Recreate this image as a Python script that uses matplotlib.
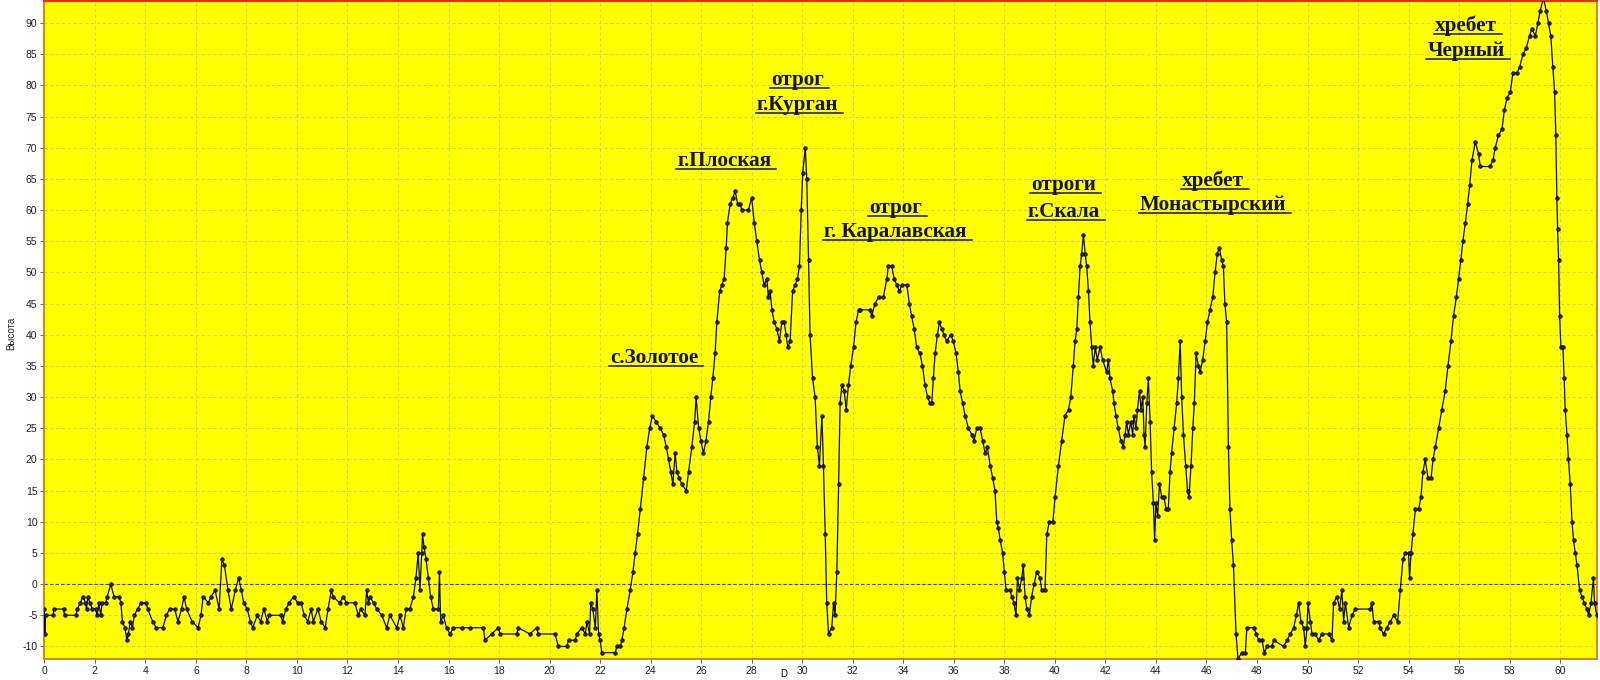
import matplotlib
matplotlib.use("Agg")
import matplotlib.pyplot as plt
from matplotlib.lines import Line2D

plt.rcParams['axes.unicode_minus'] = False

# профиль: расстояние D и высота
dist = [
    0, 0.02, 0.05, 0.35, 0.38, 0.76, 0.8, 1.25, 1.3, 1.43, 1.53, 1.63, 1.67, 1.72, 1.8, 1.9,
    2.03, 2.09, 2.16, 2.23, 2.29, 2.43, 2.49, 2.63, 2.76, 2.96, 3.03, 3.09, 3.19, 3.27, 3.33,
    3.4, 3.49, 3.56, 3.69, 3.83, 4.03, 4.09, 4.29, 4.43, 4.69, 4.83, 4.96, 5.16, 5.29, 5.43,
    5.53, 5.63, 5.85, 6.09, 6.2, 6.29, 6.49, 6.6, 6.76, 6.92, 7.03, 7.13, 7.27, 7.4, 7.56,
    7.69, 7.8, 7.89, 8.03, 8.16, 8.25, 8.43, 8.56, 8.69, 8.83, 8.89, 9.36, 9.43, 9.56, 9.69,
    9.87, 10.03, 10.16, 10.29, 10.43, 10.56, 10.65, 10.83, 10.96, 11.12, 11.23, 11.36, 11.43,
    11.69, 11.83, 11.96, 12.29, 12.43, 12.52, 12.69, 12.76, 12.83, 12.89, 13.03, 13.16, 13.36,
    13.55, 13.68, 13.95, 14.08, 14.21, 14.32, 14.47, 14.61, 14.71, 14.8, 14.87, 14.94, 14.97,
    15.03, 15.11, 15.2, 15.29, 15.4, 15.6, 15.64, 15.69, 15.79, 15.92, 16.06, 16.19, 16.52,
    16.85, 17.38, 17.44, 17.71, 17.97, 18.04, 18.7, 18.76, 19.22, 19.49, 19.55, 20.21, 20.35,
    20.68, 20.75, 21.01, 21.08, 21.28, 21.41, 21.48, 21.58, 21.63, 21.71, 21.81, 21.87, 21.94,
    22.0, 22.07, 22.6, 22.66, 22.8, 22.86, 22.95, 23.06, 23.19, 23.3, 23.39, 23.48, 23.59,
    23.72, 23.85, 23.96,
    # с.Золотое - г.Плоская - г.Курган
    24.07, 24.22, 24.38, 24.51, 24.62, 24.71, 24.8, 24.88, 24.97, 25.04, 25.13, 25.24, 25.41,
    25.5, 25.63, 25.74, 25.8, 25.9, 25.99, 26.09, 26.19, 26.29, 26.38, 26.46, 26.55, 26.62,
    26.73, 26.82, 26.91, 26.99, 27.04, 27.15, 27.25, 27.35, 27.44, 27.54, 27.61, 27.87, 28.0,
    28.1, 28.2, 28.31, 28.4, 28.49, 28.6, 28.66, 28.73, 28.8, 28.89, 28.99, 29.1, 29.19,
    29.29, 29.36, 29.43, 29.52, 29.62, 29.72, 29.81, 29.89, 29.96, 30.02, 30.12, 30.18, 30.25,
    30.31, 30.41, 30.51, 30.6, 30.68, 30.78, 30.84, 30.91, 30.97, 31.04, 31.17, 31.24, 31.3,
    31.37, 31.44, 31.5, 31.57, 31.66, 31.74, 31.83, 31.92, 32.03, 32.13, 32.23,
    # Каралавская - Скала - Монастырский
    32.29, 32.69, 32.75, 32.88, 33.02, 33.21, 33.35, 33.41, 33.54, 33.64, 33.74, 33.85, 33.94,
    34.14, 34.24, 34.33, 34.43, 34.53, 34.66, 34.76, 34.86, 34.96, 35.06, 35.13, 35.19, 35.26,
    35.35, 35.43, 35.52, 35.61, 35.72, 35.88, 35.98, 36.09, 36.18, 36.25, 36.35, 36.45, 36.58,
    36.71, 36.8, 36.91, 37.04, 37.14, 37.24, 37.33, 37.44, 37.54, 37.63, 37.7, 37.76, 37.84,
    37.93, 38.0, 38.07, 38.23, 38.29, 38.38, 38.46, 38.52, 38.6, 38.69, 38.75, 38.82, 38.89,
    38.99, 39.08, 39.18, 39.28, 39.41, 39.48, 39.61, 39.68, 39.78, 39.92, 40.01, 40.14, 40.27,
    40.4, 40.54, 40.63, 40.73, 40.8, 40.87, 40.93, 41.0, 41.06, 41.13, 41.2, 41.26, 41.33,
    41.39, 41.46, 41.52, 41.6, 41.68, 41.79, 41.89, 42.05, 42.12, 42.18, 42.29, 42.34, 42.42,
    42.51, 42.61, 42.71, 42.78, 42.84, 42.91, 43.0, 43.08, 43.13, 43.21, 43.27, 43.35, 43.41,
    43.48, 43.53, 43.57, 43.64, 43.7, 43.77, 43.83, 43.9, 43.95, 44.0, 44.07, 44.14, 44.23,
    44.32, 44.4, 44.49, 44.56, 44.62, 44.72, 44.82, 44.89, 44.96, 45.02, 45.09, 45.18, 45.25,
    45.31, 45.39, 45.46, 45.52, 45.59, 45.68, 45.75, 45.85, 45.95, 46.04, 46.14, 46.25, 46.34,
    46.43, 46.51, 46.6, 46.67, 46.73, 46.8, 46.87, 46.93, 47.0, 47.07, 47.17, 47.25,
    # равнина и хребет Черный
    47.4, 47.54, 47.6, 47.87, 47.97, 48.07, 48.2, 48.29, 48.4, 48.59, 48.66, 49.06, 49.19,
    49.32, 49.45, 49.56, 49.65, 49.74, 49.85, 49.91, 49.98, 50.02, 50.11, 50.18, 50.31, 50.44,
    50.57, 50.84, 50.97, 51.03, 51.17, 51.27, 51.36, 51.43, 51.5, 51.63, 51.76, 51.89, 52.48,
    52.55, 52.62, 52.82, 52.88, 53.01, 53.14, 53.28, 53.41, 53.57, 53.67, 53.78, 53.87, 54.0,
    54.04, 54.1, 54.17, 54.27, 54.4, 54.49, 54.57, 54.66, 54.77, 54.89, 54.97, 55.06, 55.19,
    55.32, 55.45, 55.56, 55.68, 55.78, 55.89, 55.98, 56.07, 56.15, 56.25, 56.34, 56.42, 56.51,
    56.64, 56.77, 56.84, 57.23, 57.34, 57.43, 57.56, 57.7, 57.79, 57.9, 58.03, 58.13, 58.29,
    58.4, 58.53, 58.66, 58.79, 58.88, 59.02, 59.12, 59.21, 59.34, 59.45, 59.54, 59.63, 59.71,
    59.78, 59.83, 59.87, 59.9, 59.94, 59.98, 60.03, 60.11, 60.16, 60.2, 60.27, 60.33, 60.4,
    60.47, 60.53, 60.6, 60.67, 60.77, 60.86, 60.95, 61.06, 61.13, 61.22, 61.32, 61.36, 61.45,
]
height = [
    -4, -8, -5, -5, -4, -4, -5, -5, -4, -3, -2, -3, -4, -2, -3, -4,
    -4, -5, -3, -5, -3, -3, -2, 0, -2, -2, -3, -6, -7, -9, -8,
    -6, -7, -5, -4, -3, -3, -4, -6, -7, -7, -5, -4, -4, -6, -4,
    -2, -4, -6, -7, -5, -2, -3, -2, -1, -4, 4, 3, -1, -4, -1,
    1, -1, -3, -4, -6, -7, -5, -6, -4, -6, -5, -5, -6, -4, -3,
    -2, -3, -3, -5, -6, -4, -6, -4, -6, -7, -4, -1, -2,
    -3, -2, -3, -3, -5, -4, -5, -1, -3, -2, -3, -4, -5,
    -7, -5, -7, -5, -7, -4, -4, -2, 1, 5, -1, 5, 8,
    6, 4, 1, -2, -4, -4, 2, -6, -5, -7, -8, -7, -7,
    -7, -7, -9, -8, -7, -8, -8, -7, -8, -7, -8, -8, -10,
    -10, -9, -9, -8, -7, -8, -6, -8, -3, -4, -7, -1, -8,
    -9, -11, -11, -10, -10, -9, -7, -4, -1, 2, 5, 8, 12,
    17, 22, 25,
    27, 26, 25, 24, 22, 20, 18, 16, 21, 18, 17, 16, 15,
    18, 22, 26, 30, 25, 23, 21, 23, 26, 30, 33, 37, 42,
    47, 48, 49, 54, 58, 61, 62, 63, 61, 61, 60, 60, 62,
    58, 55, 52, 50, 48, 49, 46, 47, 44, 42, 41, 39, 42,
    42, 40, 38, 39, 47, 48, 49, 51, 60, 66, 70, 65, 52,
    40, 33, 30, 22, 19, 27, 19, 8, -3, -8, -7, -3, -5,
    2, 16, 29, 32, 31, 28, 32, 35, 38, 42, 44,
    44, 44, 43, 45, 46, 46, 49, 51, 51, 49, 48, 47, 48,
    48, 45, 43, 41, 38, 37, 35, 32, 30, 29, 29, 33, 37,
    40, 42, 41, 40, 39, 40, 39, 37, 34, 31, 29, 27, 25,
    24, 23, 25, 25, 23, 21, 22, 19, 17, 15, 10, 9, 7,
    5, 2, -1, -1, -2, -3, -5, 1, -1, 1, 3, -2, -4,
    -5, -2, 0, 2, 1, -1, -1, 8, 10, 10, 14, 19, 23,
    27, 28, 30, 35, 39, 41, 46, 51, 53, 56, 53, 51, 47,
    42, 38, 35, 38, 36, 38, 36, 34, 36, 33, 31, 29, 27,
    25, 23, 22, 24, 26, 24, 26, 24, 27, 25, 28, 31, 28,
    30, 24, 22, 29, 33, 26, 18, 13, 7, 13, 11, 16, 14,
    14, 12, 12, 18, 21, 25, 29, 33, 39, 30, 24, 19, 15,
    14, 19, 25, 29, 37, 35, 34, 36, 39, 42, 44, 46, 50,
    53, 54, 52, 51, 45, 42, 22, 12, 7, 3, -8, -12,
    -11, -11, -7, -7, -8, -9, -9, -11, -10, -10, -9, -10, -9,
    -8, -7, -5, -3, -6, -7, -10, -7, -3, -6, -8, -8, -9,
    -8, -8, -9, -3, -2, -4, -1, -6, -3, -7, -5, -4, -4,
    -3, -6, -6, -7, -8, -7, -6, -5, -6, -1, 4, 5, 5,
    1, 5, 8, 12, 12, 14, 18, 20, 17, 17, 20, 22, 25,
    28, 31, 35, 39, 43, 46, 49, 52, 55, 58, 61, 64, 68,
    71, 69, 67, 67, 68, 70, 72, 73, 76, 78, 79, 82, 82,
    83, 85, 86, 88, 89, 88, 90, 92, 94, 92, 90, 88, 83,
    79, 72, 62, 57, 52, 43, 38, 38, 33, 28, 24, 20, 16,
    10, 7, 5, 3, -1, -2, -3, -4, -5, -3, 1, -3, -5,
]

# подписи: (строки, x, y базовой линии, выравнивание)
labels = [
    (["с.Золотое"], 22.4, [35.5], "left"),
    (["г.Плоская"], 25.05, [67.0], "left"),
    (["отрог", "г.Курган"], 29.82, [80.0, 76.0], "center"),
    (["отрог", "г. Каралавская"], 33.7, [59.5, 55.7], "center"),
    (["отроги", "г.Скала"], 40.35, [63.2, 58.9], "center"),
    (["хребет", "Монастырский"], 46.25, [63.8, 60.0], "center"),
    (["хребет", "Черный"], 56.27, [88.8, 84.8], "center"),
]

fig = plt.figure(figsize=(16, 6.8), dpi=100)
fig.patch.set_facecolor('#ffffff')
ax = fig.add_axes([0.0277, 0.031, 0.9706, 0.968])
ax.set_facecolor('#ffff00')

ax.plot(dist, height, color='#0a0a3a', lw=0.9, marker='o', markersize=2.6,
        markerfacecolor='#1c1c8c', markeredgecolor='#05052a', markeredgewidth=0.5, zorder=3)

ax.set_xlim(0, 61.47)
ax.set_ylim(-12, 93.6)
ax.set_xticks(range(0, 61, 2))
ax.set_yticks(range(-10, 91, 5))
ax.grid(True, color='#c8c898', ls=(0, (3, 3)), lw=0.7)
ax.axhline(0, color='#3a3a60', ls=(0, (3, 2)), lw=0.8, zorder=2)
ax.tick_params(direction='out', length=3, width=0.6, colors='#505050', labelsize=7.5,
               labelcolor='#202020', pad=2)
for lab in ax.get_xticklabels() + ax.get_yticklabels():
    lab.set_family('Liberation Sans')
for side in ['left', 'bottom', 'right']:
    ax.spines[side].set_color('#d07018')
    ax.spines[side].set_linewidth(1.2)
ax.spines['top'].set_color('#e03010')
ax.spines['top'].set_linewidth(1.5)

fig.text(0.004, 0.51, 'Высота', rotation=90, fontsize=7, family='Liberation Sans',
         color='#202020', ha='left', va='center')
fig.text(0.49, 0.002, 'D', fontsize=7, family='Liberation Sans', ha='center', va='bottom')

texts = []
for lines, x, ys, ha in labels:
    for line, y in zip(lines, ys):
        t = ax.text(x, y, line, ha=ha, va='baseline', fontsize=15.2, fontweight='bold',
                    family='Liberation Serif', color='#12123a', zorder=5)
        texts.append((t, x, y))

# подчеркивание подписей
fig.canvas.draw()
renderer = fig.canvas.get_renderer()
inv = fig.transFigure.inverted()
for t, x, y in texts:
    bb = t.get_window_extent(renderer)
    base = ax.transData.transform((x, y))[1] - 3
    p0 = inv.transform((bb.x0 - 1, base))
    p1 = inv.transform((bb.x1 + 5, base))
    fig.add_artist(Line2D([p0[0], p1[0]], [p0[1], p1[1]], color='#12123a', lw=1.1))

fig.savefig('out.png', dpi=100, facecolor='#ffffff')
